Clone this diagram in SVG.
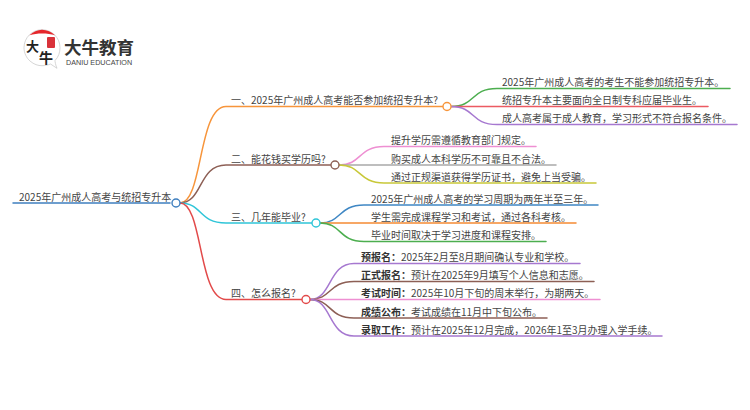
<svg xmlns="http://www.w3.org/2000/svg" width="750" height="410" viewBox="0 0 750 410">
<style>
text{font-family:"Noto Sans CJK SC","Liberation Sans",sans-serif;fill:#444;font-size:10px}
.b{font-weight:700;fill:#333}
#connectors path{fill:none;stroke-width:1.5;stroke-linecap:round}
.n{fill:#fff;stroke-width:1.4}
</style>
<rect width="750" height="410" fill="#fff"/>
<g id="logo">
<path d="M30 61C34 64.500 38 65.700 42 65.700C45.500 65.700 48 65 50.500 64L57 68.300C55.500 65 55 61.500 55 60.500C58.500 57 60 52.500 60 47.700C60 37.800 52 29.700 42 29.700C32 29.700 24 37.800 24 47.700C24 53 26.500 58 30 61Z" fill="#fff" stroke="#c4c4c4" stroke-width=".7"/>
<path d="M29.500 35.300C33 31.800 37.500 29.700 42 29.700C47 29.700 51.500 31.800 55 35.300C47.500 33 37 33 29.500 35.300Z" fill="#e5262b"/>
<rect x="47" y="37" width="8" height="11" rx="1" fill="#d9323a"/>
<text x="26" y="51" class="b" style="font-size:13px;fill:#222">大</text>
<text x="39" y="63" class="b" style="font-size:14px;fill:#222">牛</text>
<text x="64" y="53.500" class="b" style="font-size:17.500px;fill:#333">大牛教育</text>
<text x="66" y="64.800" style="font-size:7.200px;fill:#444;font-family:'Liberation Sans',sans-serif">DANIU EDUCATION</text>
</g>
<g id="connectors">
<path d="M13 203H170" stroke="#3f7fbf"/>
<path d="M180 203C203 203 198 106.500 226 106.500H443" stroke="#f7953b"/>
<path d="M180 203C203 203 198 165 226 165H331" stroke="#8d5f55"/>
<path d="M180 203C203 203 198 223 226 223H312" stroke="#2fc5d8"/>
<path d="M180 203C203 203 198 299.500 226 299.500H302" stroke="#e24a4a"/>
<path d="M451 106.500C476 106.500 470 88.500 497 88.500H730" stroke="#4cae4f"/>
<path d="M451 106.500H708" stroke="#ec5a62"/>
<path d="M451 106.500C476 106.500 470 124.500 497 124.500H737" stroke="#a678d0"/>
<path d="M339 165C362 165 358 146.500 384 146.500H536" stroke="#ee8fd2"/>
<path d="M339 165H556" stroke="#a9a9a9"/>
<path d="M339 165C362 165 358 183 384 183H596" stroke="#c8c838"/>
<path d="M320 223C342 223 338 205 364 205H598" stroke="#3f87c4"/>
<path d="M320 223H576" stroke="#f58a33"/>
<path d="M320 223C342 223 338 241.500 364 241.500H546" stroke="#4cae4f"/>
<path d="M310 299.500C332 299.500 328 263.500 354 263.500H580" stroke="#a678d0"/>
<path d="M310 299.500C332 299.500 328 281.500 354 281.500H594" stroke="#8d5f55"/>
<path d="M310 299.500H600" stroke="#ee8fd2"/>
<path d="M310 299.500C332 299.500 328 318 354 318H547" stroke="#8d5f55"/>
<path d="M310 299.500C332 299.500 328 336 354 336H662" stroke="#a678d0"/>
</g>
<g id="root"><text x="19" y="201">2025年广州成人高考与统招专升本</text><circle class="n" cx="176" cy="203" r="4" stroke="#3f7fbf"/></g>
<g id="branch1"><text x="231" y="104">一、2025年广州成人高考能否参加统招专升本?</text><circle class="n" cx="447" cy="106.500" r="4" stroke="#f7953b"/></g>
<g id="branch2"><text x="231" y="163">二、能花钱买学历吗?</text><circle class="n" cx="335" cy="165" r="4" stroke="#8d5f55"/></g>
<g id="branch3"><text x="231" y="221">三、几年能毕业?</text><circle class="n" cx="316" cy="223" r="4" stroke="#2fc5d8"/></g>
<g id="branch4"><text x="231" y="297">四、怎么报名?</text><circle class="n" cx="306" cy="299.500" r="4" stroke="#e24a4a"/></g>
<g id="leaf11"><text x="502" y="86">2025年广州成人高考的考生不能参加统招专升本。</text></g>
<g id="leaf12"><text x="502" y="104">统招专升本主要面向全日制专科应届毕业生。</text></g>
<g id="leaf13"><text x="502" y="122">成人高考属于成人教育，学习形式不符合报名条件。</text></g>
<g id="leaf21"><text x="391" y="144">提升学历需遵循教育部门规定。</text></g>
<g id="leaf22"><text x="391" y="163">购买成人本科学历不可靠且不合法。</text></g>
<g id="leaf23"><text x="391" y="181">通过正规渠道获得学历证书，避免上当受骗。</text></g>
<g id="leaf31"><text x="371" y="203">2025年广州成人高考的学习周期为两年半至三年。</text></g>
<g id="leaf32"><text x="371" y="221">学生需完成课程学习和考试，通过各科考核。</text></g>
<g id="leaf33"><text x="371" y="239">毕业时间取决于学习进度和课程安排。</text></g>
<g id="leaf41"><text x="361" y="261"><tspan class="b">预报名：</tspan>2025年2月至8月期间确认专业和学校。</text></g>
<g id="leaf42"><text x="361" y="279"><tspan class="b">正式报名：</tspan>预计在2025年9月填写个人信息和志愿。</text></g>
<g id="leaf43"><text x="361" y="297"><tspan class="b">考试时间：</tspan>2025年10月下旬的周末举行，为期两天。</text></g>
<g id="leaf44"><text x="361" y="316"><tspan class="b">成绩公布：</tspan>考试成绩在11月中下旬公布。</text></g>
<g id="leaf45"><text x="361" y="334"><tspan class="b">录取工作：</tspan>预计在2025年12月完成，2026年1至3月办理入学手续。</text></g>
</svg>
